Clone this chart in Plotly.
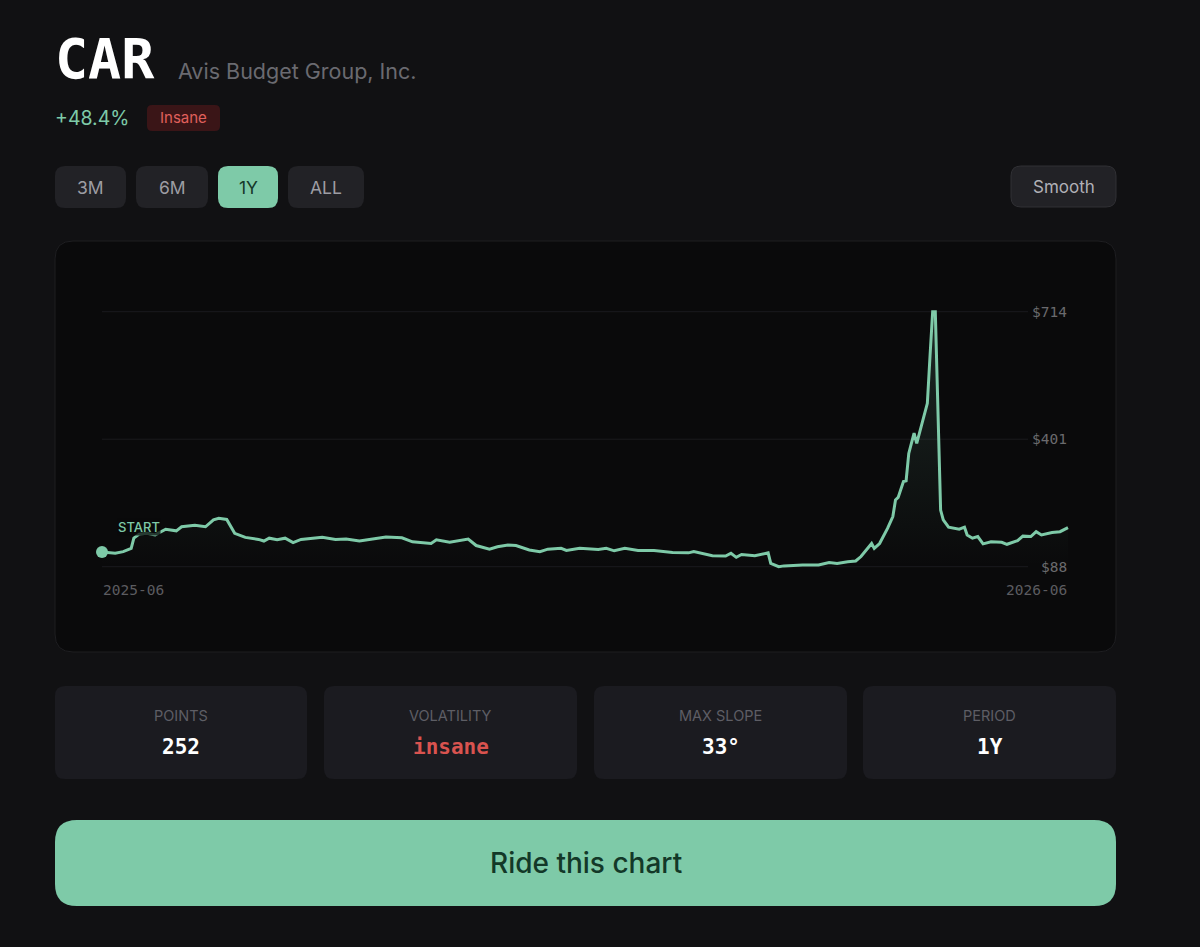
import plotly.graph_objects as go
import pandas as pd

W, H = 1200, 947

# ---------------- data ----------------
ticker = "CAR"
company = "Avis Budget Group, Inc."
change_text = "+48.4%"
badge_text = "Insane"
period_buttons = ["3M", "6M", "1Y", "ALL"]
active_period = "1Y"
start_date = "2025-06-02"
day_offsets = [0, 5, 8, 11, 12, 14, 17, 20, 24, 28, 30, 35, 39, 42, 44, 47, 50, 54, 59, 61,
               63, 66, 69, 72, 75, 83, 88, 92, 97, 102, 107, 113, 117, 124, 126, 131, 138, 141, 146, 149,
               153, 156, 161, 165, 168, 173, 175, 180, 184, 187, 190, 193, 197, 202, 208, 215, 221, 223, 230, 235,
               237, 239, 241, 246, 251, 252, 255, 257, 264, 270, 274, 277, 281, 284, 286, 287, 290, 291, 293, 296,
               298, 299, 300, 302, 303, 304, 306, 307, 309, 311, 312, 313, 314, 316, 317, 319, 323, 325, 326, 328,
               330, 332, 335, 339, 341, 345, 347, 350, 352, 354, 358, 361, 364]
prices = [124, 121, 125, 133, 158, 168, 170, 166, 180, 176, 186, 190, 186, 203, 207, 204, 170, 160, 155, 151,
          158, 154, 158, 147, 155, 160, 155, 156, 151, 156, 161, 159, 149, 145, 154, 148, 156, 140, 131, 137,
          141, 140, 129, 125, 131, 133, 128, 133, 131, 130, 133, 127, 133, 128, 128, 123, 122, 125, 115, 114,
          121, 111, 118, 115, 122, 96, 88, 90, 92, 92, 98, 96, 100, 102, 113, 121, 145, 133, 145, 182,
          211, 252, 258, 297, 299, 366, 416, 391, 440, 489, 604, 714, 714, 227, 203, 185, 180, 185, 166, 158,
          162, 144, 149, 148, 143, 152, 163, 162, 174, 166, 172, 174, 184]
price_ticks = [714, 401, 88]
price_tick_text = ["$714", "$401", "$88"]
date_tick_text = ["2025-06", "2026-06"]
stat_labels = ["POINTS", "VOLATILITY", "MAX SLOPE", "PERIOD"]
stat_values = ["252", "insane", "33°", "1Y"]
cta_text = "Ride this chart"

dates = pd.Timestamp(start_date) + pd.to_timedelta(day_offsets, unit="D")

# ---------------- style ----------------
PAGE_BG = "#111113"
CARD_BG = "#0a0a0b"
CARD_LINE = "#1e1e21"
BTN_BG = "#222226"
STAT_BG = "#1b1b20"
GREEN = "#7ecaa8"
MUTED = "#6a6a70"
SANS = "Inter, 'Open Sans', sans-serif"
MONO = "'DejaVu Sans Mono', monospace"


def xp(x):
    return x / W


def yp(y):
    return 1 - y / H


def rrect(x0, y0, x1, y1, r, fill, line=None, lw=0):
    rx, ry = r / W, r / H
    X0, X1 = xp(x0), xp(x1)
    Y0, Y1 = yp(y0), yp(y1)  # Y0 top, Y1 bottom
    path = (f"M {X0+rx},{Y0} L {X1-rx},{Y0} Q {X1},{Y0} {X1},{Y0-ry} "
            f"L {X1},{Y1+ry} Q {X1},{Y1} {X1-rx},{Y1} L {X0+rx},{Y1} "
            f"Q {X0},{Y1} {X0},{Y1+ry} L {X0},{Y0-ry} Q {X0},{Y0} {X0+rx},{Y0} Z")
    return dict(type="path", path=path, xref="paper", yref="paper",
                fillcolor=fill, line=dict(color=line or fill, width=lw), layer="below")


shapes = []
annotations = []


def text(x, y, s, size, color, font=SANS, weight=400, xanchor="center"):
    annotations.append(dict(x=xp(x), y=yp(y), xref="paper", yref="paper", text=s,
                            showarrow=False, xanchor=xanchor, yanchor="middle",
                            font=dict(family=font, size=size, color=color, weight=weight)))


# header
text(53, 59, ticker, 55, "#ffffff", font=MONO, weight=700, xanchor="left")
text(176, 71, company, 21.5, MUTED, xanchor="left")
text(53, 118, change_text, 19.5, GREEN, xanchor="left")
shapes.append(rrect(147, 105, 220, 131, 5, "#3a1517"))
text(183.5, 118, badge_text, 15, "#e0605c")

# period buttons
btn_x = [(55, 126), (136, 208), (218, 278), (288, 364)]
for lab, (a, b) in zip(period_buttons, btn_x):
    active = lab == active_period
    shapes.append(rrect(a, 166, b, 208, 10, GREEN if active else BTN_BG))
    text((a + b) / 2, 187.5, lab, 17.5, "#16382a" if active else "#9d9da3")
shapes.append(rrect(1011, 166, 1116, 207, 10, BTN_BG, line="#303034", lw=1))
text(1063.5, 187, "Smooth", 17, "#b0b0b6")

# chart card
shapes.append(rrect(55, 241, 1116, 652, 18, CARD_BG, line=CARD_LINE, lw=1))

# stats cards
stat_x = [(55, 307), (324, 577), (594, 847), (863, 1116)]
for lab, val, (a, b) in zip(stat_labels, stat_values, stat_x):
    shapes.append(rrect(a, 686, b, 779, 10, STAT_BG))
    text((a + b) / 2, 715, lab, 14.5, "#5e5e65")
    text((a + b) / 2, 746.5, val, 21, "#d9534f" if val == "insane" else "#ffffff",
         font=MONO, weight=700)

# CTA
shapes.append(rrect(55, 820, 1116, 906, 22, GREEN))
text(585.5, 863, cta_text, 28, "#133828", weight=500)

# ---------------- chart axes placement ----------------
pmin, pmax = min(prices), max(prices)
y_pad = 8
y_lo, y_hi = pmin - y_pad, pmax + y_pad
ppu = (566.7 - 311.7) / (pmax - pmin)
dom_bottom = 566.7 + y_pad * ppu
dom_top = 311.7 - y_pad * ppu
x_pad_days = 1
ppd = (1068 - 102) / (day_offsets[-1] - day_offsets[0])
x_lo = dates[0] - pd.Timedelta(days=x_pad_days)
x_hi = dates[-1] + pd.Timedelta(days=x_pad_days)
dom_left = 102 - x_pad_days * ppd
dom_right = 1068 + x_pad_days * ppd

# gridlines + tick labels
for v, t in zip(price_ticks, price_tick_text):
    shapes.append(dict(type="line", xref="paper", yref="y", x0=xp(102), x1=xp(1028),
                       y0=v, y1=v, line=dict(color="#1b1b1e", width=1), layer="below"))
    annotations.append(dict(x=xp(1069), y=v, xref="paper", yref="y", text=t, showarrow=False,
                            xanchor="right", yanchor="middle",
                            font=dict(family=MONO, size=14.5, color="#6a6a6e")))
annotations.append(dict(x=dates[0], y=yp(589.5), xref="x", yref="paper", text=date_tick_text[0],
                        showarrow=False, xanchor="left", yanchor="middle", xshift=-1,
                        font=dict(family=MONO, size=14.5, color="#5c5c60")))
annotations.append(dict(x=dates[-1], y=yp(589.5), xref="x", yref="paper", text=date_tick_text[1],
                        showarrow=False, xanchor="right", yanchor="middle", xshift=1,
                        font=dict(family=MONO, size=14.5, color="#5c5c60")))
# START label
annotations.append(dict(x=dates[0], y=prices[0], xref="x", yref="y", text="START", showarrow=False,
                        xanchor="center", yanchor="middle", xshift=37, yshift=25,
                        bgcolor="rgba(10,10,11,0.75)", borderpad=0,
                        font=dict(family=SANS, size=13, color=GREEN, weight=500)))

fig = go.Figure()
fig.add_trace(go.Scatter(
    x=dates, y=prices, mode="lines",
    line=dict(color=GREEN, width=3),
    fill="tozeroy",
    fillgradient=dict(type="vertical", start=pmin, stop=pmax,
                      colorscale=[[0, "rgba(126,202,168,0.0)"], [1, "rgba(126,202,168,0.16)"]]),
    hoverinfo="skip", showlegend=False))
fig.add_trace(go.Scatter(
    x=[dates[0]], y=[prices[0]], mode="markers",
    marker=dict(color=GREEN, size=12), cliponaxis=False,
    hoverinfo="skip", showlegend=False))

fig.update_layout(
    width=W, height=H,
    margin=dict(l=0, r=0, t=0, b=0),
    paper_bgcolor=PAGE_BG, plot_bgcolor="rgba(0,0,0,0)",
    xaxis=dict(domain=[xp(dom_left), xp(dom_right)], range=[x_lo, x_hi],
               showgrid=False, zeroline=False, showticklabels=False, showline=False, fixedrange=True),
    yaxis=dict(domain=[yp(dom_bottom), yp(dom_top)], range=[y_lo, y_hi],
               showgrid=False, zeroline=False, showticklabels=False, showline=False, fixedrange=True),
    shapes=shapes, annotations=annotations,
    showlegend=False,
)

fig.write_html("out.html", config={"displayModeBar": False},
               post_script="document.body.style.margin='0';document.body.style.background='#111113';"
                           "document.documentElement.style.overflow='hidden';")
